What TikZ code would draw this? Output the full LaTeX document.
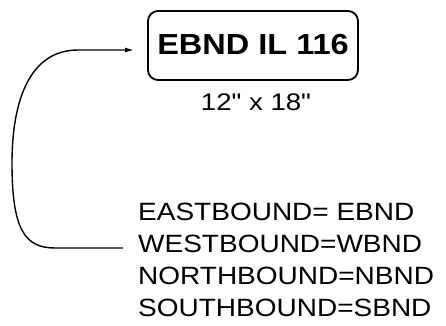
\documentclass[tikz,border=0pt]{standalone}
\usepackage{fontspec}
\setmainfont{Liberation Sans}
\newfontfamily\rawfont{Liberation Sans}[Ligatures=TeXOff]
\usetikzlibrary{arrows.meta}
\begin{document}
\begin{tikzpicture}[x=1pt,y=-1pt,
  signbox/.style={draw, line width=1.8pt, rounded corners=10pt, minimum width=210pt, minimum height=69pt, inner sep=0pt},
  conn/.style={line width=1.4pt},
  listtxt/.style={anchor=base west, inner sep=0pt, font=\fontsize{25}{30}\selectfont}]
\useasboundingbox (0,0) rectangle (446,325);
\node[signbox] (sign) at (253,45.5) {\raisebox{2.5pt}{\scalebox{1.12}[1]{\fontsize{29}{34}\selectfont\bfseries EBND IL 116}}};
\node[anchor=base, inner sep=0pt, font=\fontsize{24}{28}\selectfont\rawfont] (size) at (256,110) {\scalebox{1.15}[1]{12" x 18"}};
\node[listtxt] (l1) at (138,220) {\scalebox{1.12}[1]{EASTBOUND= EBND}};
\node[listtxt] (l2) at (138,252) {\scalebox{1.12}[1]{WESTBOUND=WBND}};
\node[listtxt] (l3) at (138,284) {\scalebox{1.12}[1]{NORTHBOUND=NBND}};
\node[listtxt] (l4) at (138,316) {\scalebox{1.12}[1]{SOUTHBOUND=SBND}};
\coordinate (cstart) at (123,248);
\coordinate (tip) at (134,50);
\draw[conn, -{Latex[length=9pt,width=5pt]}] (cstart) -- (55,248) .. controls (25,248) and (12,230) .. (12,163) .. controls (12,100) and (30,50) .. (78,50) -- (tip);
\end{tikzpicture}
\end{document}
